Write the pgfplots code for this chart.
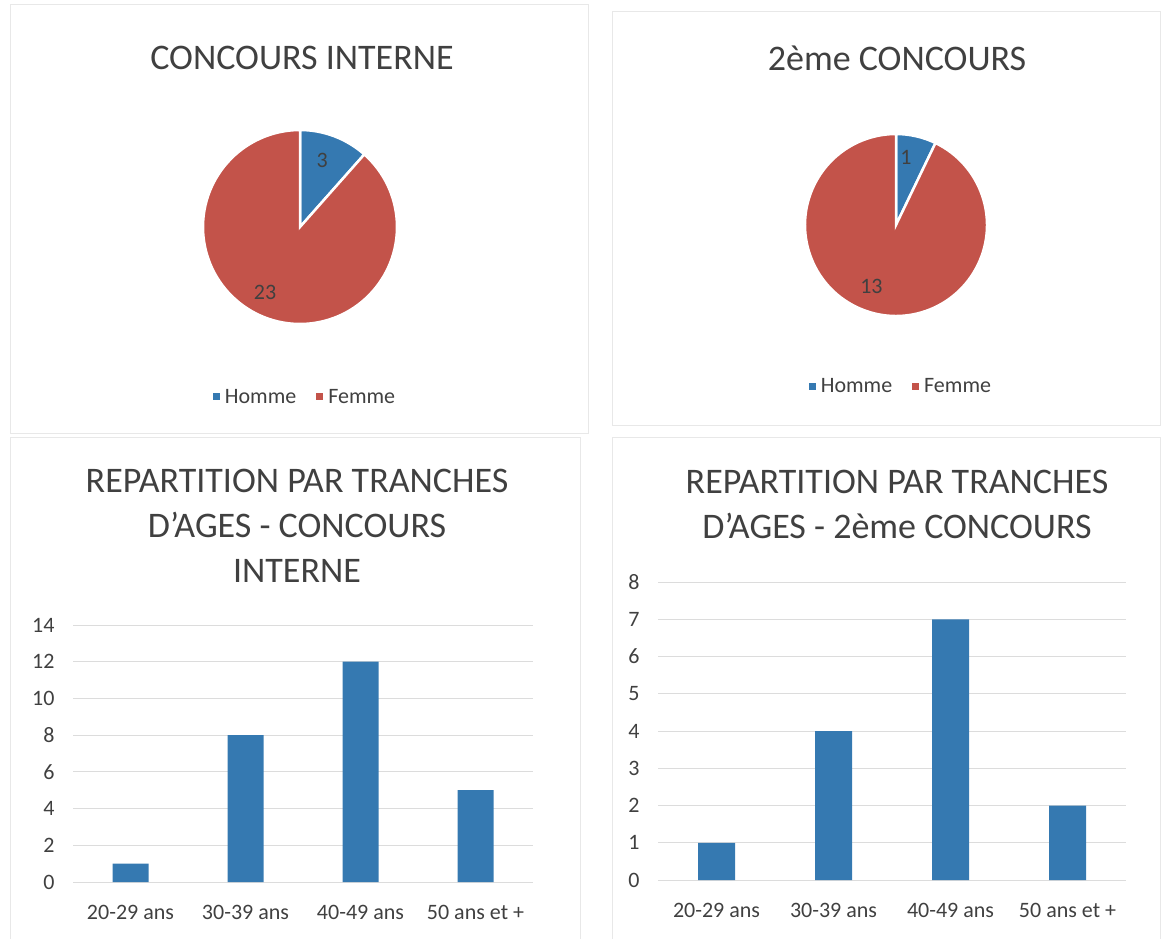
\documentclass[border=0pt]{standalone}
\usepackage{pgfplots}
\pgfplotsset{compat=1.18}
\usepackage{fontspec}
\setmainfont{Carlito}
\definecolor{blueC}{HTML}{3579B1}
\definecolor{redC}{HTML}{C3534A}
\definecolor{txt}{HTML}{404040}
\definecolor{gridc}{HTML}{DCDCDC}
\definecolor{framec}{HTML}{E8E8E8}
% data
\def\hA{3}\def\fA{23}
\def\hB{1}\def\fB{13}
\pgfmathsetmacro\angA{90-360*\hA/(\hA+\fA)}
\pgfmathsetmacro\angB{90-360*\hB/(\hB+\fB)}
\pgfplotsset{
  piestyle/.style={hide axis, scale only axis, xmin=-1, xmax=1, ymin=-1, ymax=1, clip=false,
    legend columns=2,
    legend image code/.code={\fill[##1, draw=none] (0pt,-3.5pt) rectangle (7pt,3.5pt);},
    legend style={draw=none, fill=none, font=\fontsize{22}{26}\selectfont\color{txt},
      /tikz/every even column/.append style={column sep=18pt}}},
  barstyle/.style={scale only axis, xmin=-0.5, xmax=3.5, ymin=0,
    xtick=data, xticklabels={20-29 ans,30-39 ans,40-49 ans,50 ans et +},
    axis line style={draw=none}, major tick length=0, tick style={draw=none},
    ymajorgrids, grid style={gridc, line width=1pt},
    tick label style={font=\fontsize{22}{26}\selectfont, color=txt},
    /pgf/number format/assume math mode=true,
    yticklabel style={xshift=-15pt}, xticklabel style={yshift=-20pt},
    ybar}
}
\begin{document}
\begin{tikzpicture}
\path[use as bounding box] (0pt,0pt) rectangle (1170pt,-939pt);
% panel frames
\draw[framec, line width=1pt] (10pt,-5pt) rectangle (588pt,-433pt);
\draw[framec, line width=1pt] (612pt,-12pt) rectangle (1160pt,-425pt);
\draw[framec, line width=1pt] (10pt,-437pt) rectangle (580pt,-945pt);
\draw[framec, line width=1pt] (612pt,-437pt) rectangle (1160pt,-945pt);
% titles
\node[txt, font=\fontsize{36}{45}\selectfont] at (302pt,-58pt) {CONCOURS INTERNE};
\node[txt, font=\fontsize{36}{45}\selectfont] at (897pt,-58pt) {2ème CONCOURS};
\node[txt, font=\fontsize{36}{45}\selectfont, align=center] at (297pt,-526pt) {REPARTITION PAR TRANCHES\\D'AGES - CONCOURS\\INTERNE};
\node[txt, font=\fontsize{36}{45}\selectfont, align=center] at (897pt,-504pt) {REPARTITION PAR TRANCHES\\D'AGES - 2ème CONCOURS};

% pie 1
\begin{axis}[piestyle, at={(300pt,-227pt)}, anchor=center, width=194pt, height=194pt,
  legend style={at={(0.526,-0.376)}, anchor=center}]
\fill[blueC, draw=white, line width=2.5pt] (axis cs:0,0) -- ++(90:97pt) arc[start angle=90, end angle=\angA, radius=97pt] -- cycle;
\fill[redC, draw=white, line width=2.5pt] (axis cs:0,0) -- ++(\angA:97pt) arc[start angle=\angA, end angle=-270, radius=97pt] -- cycle;
\node[txt, font=\fontsize{22}{26}\selectfont] at (axis cs:0.23,0.69) {3};
\node[txt, font=\fontsize{22}{26}\selectfont] at (axis cs:-0.36,-0.67) {23};
\addlegendimage{fill=blueC}\addlegendentry{\hspace{3pt}Homme}
\addlegendimage{fill=redC}\addlegendentry{\hspace{3pt}Femme}
\end{axis}

% pie 2
\begin{axis}[piestyle, at={(896pt,-225pt)}, anchor=center, width=182pt, height=182pt,
  legend style={at={(0.527,-0.385)}, anchor=center}]
\fill[blueC, draw=white, line width=2.5pt] (axis cs:0,0) -- ++(90:91pt) arc[start angle=90, end angle=\angB, radius=91pt] -- cycle;
\fill[redC, draw=white, line width=2.5pt] (axis cs:0,0) -- ++(\angB:91pt) arc[start angle=\angB, end angle=-270, radius=91pt] -- cycle;
\node[txt, font=\fontsize{22}{26}\selectfont] at (axis cs:0.11,0.74) {1};
\node[txt, font=\fontsize{22}{26}\selectfont] at (axis cs:-0.27,-0.67) {13};
\addlegendimage{fill=blueC}\addlegendentry{\hspace{3pt}Homme}
\addlegendimage{fill=redC}\addlegendentry{\hspace{3pt}Femme}
\end{axis}

% bars 1
\begin{axis}[barstyle, at={(73pt,-882pt)}, anchor=south west, width=460pt, height=257pt,
  ymax=14, ytick={0,2,...,14}, bar width=36pt]
\addplot[fill=blueC, draw=none] coordinates {(0,1) (1,8) (2,12) (3,5)};
\end{axis}

% bars 2
\begin{axis}[barstyle, at={(658pt,-880pt)}, anchor=south west, width=468pt, height=298pt,
  ymax=8, ytick={0,1,...,8}, bar width=37pt]
\addplot[fill=blueC, draw=none] coordinates {(0,1) (1,4) (2,7) (3,2)};
\end{axis}
\end{tikzpicture}
\end{document}
